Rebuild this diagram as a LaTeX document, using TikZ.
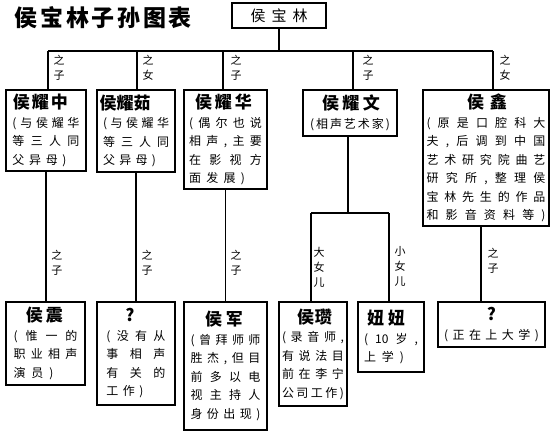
\documentclass[tikz,border=0pt]{standalone}
\usepackage{fontspec}
\newfontfamily\cjk{Noto Sans CJK SC}
\def\spA#1{#1\spB}
\def\spB#1{\ifx#1\relax\else\hfil#1\expandafter\spB\fi}
\newcommand\jl[2]{\makebox[#1pt][s]{\spA#2\relax}}
\newcommand\jL[3]{\makebox[#1pt][l]{\jl{#2}{#3}}}
\newcommand\numten{10}
\newcommand\namefnt{\bfseries\fontsize{17}{18.5}\selectfont}
\newcommand\nmo[3]{\hspace*{#1pt}\makebox[0pt]{\namefnt\jl{#2}{#3}}}
\newcommand\nmq[2]{\hspace*{#1pt}\makebox[0pt]{\namefnt #2}}
\tikzset{
  box/.style={draw, line width=1.3pt, inner sep=0pt, outer sep=0pt, anchor=north west,
    align=center, font=\cjk\fontsize{12}{18.5}\selectfont},
  conn/.style={line width=1.2pt},
  lab/.style={align=center, inner sep=0pt, font=\cjk\fontsize{11}{15}\selectfont},
}
\begin{document}
\begin{tikzpicture}[x=1pt,y=-1pt]
\fill[white] (0,0) rectangle (550,434);
\useasboundingbox (0,0) rectangle (550,434);
% title
\node[inner sep=0pt, font=\cjk\bfseries\fontsize{23}{25}\selectfont] (title) at (103.5,18) {\jl{177}{侯宝林子孙图表}};
% root
\node[box, minimum width=94pt, minimum height=25pt, font=\cjk\fontsize{15}{17}\selectfont] (root) at (232,3) {\jl{57}{侯宝林}};
% row 1
\node[box, minimum width=80pt, minimum height=81pt] (zhong) at (6,90)
  {\nmo{-11}{55}{侯耀中}\\ \jl{67}{(与侯耀华}\\ \jl{67}{等三人同}\\ \jL{67}{54}{父异母)}};
\node[box, minimum width=78pt, minimum height=82pt] (ru) at (97,90)
  {\nmo{-22}{51}{侯耀茹}\\ \jl{66}{(与侯耀华}\\ \jl{66}{等三人同}\\ \jL{66}{53}{父异母)}};
\node[box, minimum width=83pt, minimum height=99pt] (hua) at (184,90)
  {\nmo{-4}{57}{侯耀华}\\ \jl{73}{(偶尔也说}\\ \jl{73}{相声,主要}\\ \jl{73}{在影视方}\\ \jL{73}{56}{面发展)}};
\node[box, minimum width=94pt, minimum height=46pt] (wen) at (303,90)
  {\nmo{2}{58}{侯耀文}\\ \jl{80}{(相声艺术家)}};
\node[box, minimum width=126pt, minimum height=136pt] (xin) at (423,90)
  {\nmo{2}{40}{侯鑫}\\ \jl{119}{(原是口腔科大}\\ \jl{119}{夫,后调到中国}\\ \jl{119}{艺术研究院曲艺}\\ \jl{119}{研究所,整理侯}\\ \jl{119}{宝林先生的作品}\\ \jl{119}{和影音资料等)}};
% row 2
\node[box, minimum width=79pt, minimum height=83pt] (zhen) at (6,302)
  {\nmo{-2}{37}{侯震}\\ \jl{64}{(惟一的}\\ \jl{64}{职业相声}\\ \jL{64}{40}{演员)}};
\node[box, minimum width=78pt, minimum height=103pt] (qa) at (97,302)
  {\nmq{-12}{?}\\ \jl{59}{(没有从}\\ \jl{59}{事相声}\\ \jl{59}{有关的}\\ \jL{59}{37}{工作)}};
\node[box, minimum width=83pt, minimum height=128pt] (jun) at (184,302)
  {\nmo{-3}{38}{侯军}\\ \jl{70}{(曾拜师师}\\ \jl{70}{胜杰,但目}\\ \jl{70}{前多以电}\\ \jl{70}{视主持人}\\ \jl{70}{身份出现)}};
\node[box, minimum width=68pt, minimum height=104pt] (zan) at (279,302)
  {\nmo{3}{35}{侯瓒}\\ \jl{62}{(录音师,}\\ \jl{62}{有说法目}\\ \jl{62}{前在李宁}\\ \jl{62}{公司工作)}};
\node[box, minimum width=66pt, minimum height=70pt] (niu) at (358,302)
  {\nmo{-10}{38}{妞妞}\\ \jl{54}{(\numten 岁,}\\ \jL{54}{40}{上学)}};
\node[box, minimum width=107pt, minimum height=45pt] (qb) at (438,302)
  {\nmq{0}{?}\\ \jl{95}{(正在上大学)}};
% connectors top
\coordinate (b1) at (48,51);
\coordinate (b2) at (137,51);
\coordinate (b3) at (223,51);
\coordinate (b4) at (353,51);
\coordinate (b5) at (493,51);
\draw[conn] (root.south) -- (root.south |- b1);
\draw[conn] (b1) -- (b5);
\draw[conn] (b1) -- (zhong.north -| b1);
\draw[conn] (b2) -- (ru.north -| b2);
\draw[conn] (b3) -- (hua.north -| b3);
\draw[conn] (b4) -- (wen.north -| b4);
\draw[conn] (b5) -- (xin.north -| b5);
% connectors row 2
\draw[conn] (zhong.south) -- (zhong.south |- zhen.north);
\draw[conn] (ru.south) -- (ru.south |- qa.north);
\draw[conn] (hua.south) -- (hua.south |- jun.north);
\coordinate (wm) at (348,213);
\coordinate (wl) at (311,213);
\coordinate (wr) at (389,213);
\draw[conn] (wen.south -| wm) -- (wm);
\draw[conn] (wl) -- (wr);
\draw[conn] (wl) -- (zan.north -| wl);
\draw[conn] (wr) -- (niu.north -| wr);
\coordinate (xm) at (481,250);
\draw[conn] (xin.south -| xm) -- (qb.north -| xm);
% labels
\node[lab] (l1) at (59,67.5) {之\\子};
\node[lab] (l2) at (148,67.5) {之\\女};
\node[lab] (l3) at (236,67.5) {之\\子};
\node[lab] (l4) at (368,67.5) {之\\子};
\node[lab] (l5) at (505,67.5) {之\\女};
\node[lab] (m1) at (57,262.5) {之\\子};
\node[lab] (m2) at (147,262.5) {之\\子};
\node[lab] (m3) at (236,262.5) {之\\子};
\node[lab] (m4) at (319,267.5) {大\\女\\儿};
\node[lab] (m5) at (400,266) {小\\女\\儿};
\node[lab] (m6) at (493,260.5) {之\\子};
\end{tikzpicture}
\end{document}
